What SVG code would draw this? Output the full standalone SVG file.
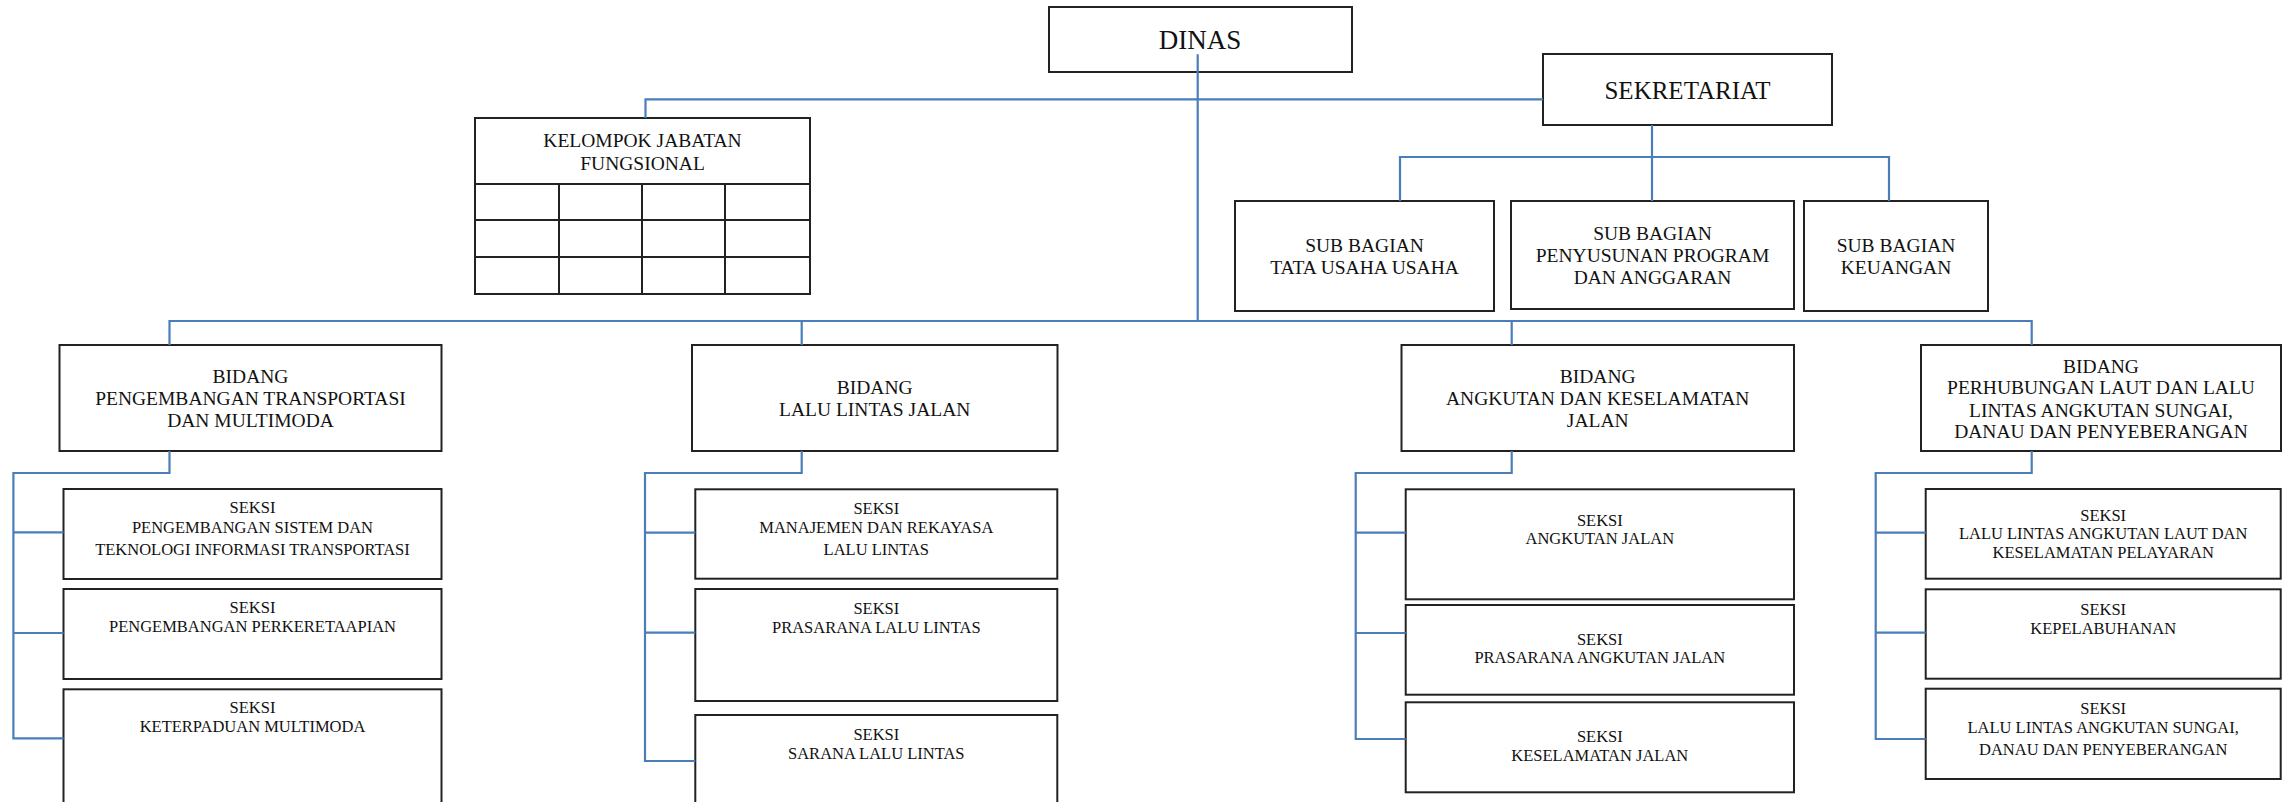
<svg xmlns="http://www.w3.org/2000/svg" width="2294" height="802" viewBox="0 0 2294 802">
<style>
.box{fill:#fff;stroke:#222;stroke-width:2}
.grid{fill:none;stroke:#222;stroke-width:2}
.con{fill:none;stroke:#4a7ebb;stroke-width:2.2}
text{font-family:"Liberation Serif","Times New Roman",serif;fill:#111;text-anchor:middle}
.t27{font-size:27px}
.t25{font-size:25px}
.t19{font-size:19.5px}
.t16{font-size:16.5px}
</style>
<rect width="2294" height="802" fill="#fff"/>

<g id="dinas">
<rect class="box" x="1049" y="7" width="303" height="65"/>
<text class="t27" x="1200" y="49">DINAS</text>
</g>

<g id="sekretariat">
<rect class="box" x="1543" y="54" width="289" height="71"/>
<text class="t25" x="1687.5" y="99">SEKRETARIAT</text>
</g>

<g id="kelompok">
<rect class="box" x="475" y="118" width="335" height="176"/>
<path class="grid" d="M475 184H810M475 220H810M475 257H810M559 184V294M642 184V294M725 184V294"/>
<text class="t19" x="642.5" y="147">KELOMPOK JABATAN</text>
<text class="t19" x="642.5" y="169.5">FUNGSIONAL</text>
</g>

<g id="subbag1">
<rect class="box" x="1235" y="201" width="259" height="110"/>
<text class="t19" x="1364.5" y="252">SUB BAGIAN</text>
<text class="t19" x="1364.5" y="273.5">TATA USAHA USAHA</text>
</g>
<g id="subbag2">
<rect class="box" x="1511" y="201" width="283" height="108"/>
<text class="t19" x="1652.5" y="240">SUB BAGIAN</text>
<text class="t19" x="1652.5" y="262">PENYUSUNAN PROGRAM</text>
<text class="t19" x="1652.5" y="283.5">DAN ANGGARAN</text>
</g>
<g id="subbag3">
<rect class="box" x="1804" y="201" width="184" height="110"/>
<text class="t19" x="1896" y="252">SUB BAGIAN</text>
<text class="t19" x="1896" y="274">KEUANGAN</text>
</g>

<g id="bidang1">
<rect class="box" x="59.5" y="345" width="382" height="106"/>
<text class="t19" x="250.5" y="383">BIDANG</text>
<text class="t19" x="250.5" y="404.5">PENGEMBANGAN TRANSPORTASI</text>
<text class="t19" x="250.5" y="426.5">DAN MULTIMODA</text>
</g>
<g id="bidang2">
<rect class="box" x="692" y="345" width="365.5" height="106"/>
<text class="t19" x="874.7" y="394">BIDANG</text>
<text class="t19" x="874.7" y="416">LALU LINTAS JALAN</text>
</g>
<g id="bidang3">
<rect class="box" x="1401.5" y="345" width="392.5" height="106"/>
<text class="t19" x="1597.7" y="383.3">BIDANG</text>
<text class="t19" x="1597.7" y="405.3">ANGKUTAN DAN KESELAMATAN</text>
<text class="t19" x="1597.7" y="427">JALAN</text>
</g>
<g id="bidang4">
<rect class="box" x="1921" y="345" width="360" height="106"/>
<text class="t19" x="2101" y="372.7">BIDANG</text>
<text class="t19" x="2101" y="394.3">PERHUBUNGAN LAUT DAN LALU</text>
<text class="t19" x="2101" y="416.7">LINTAS ANGKUTAN SUNGAI,</text>
<text class="t19" x="2101" y="438.3">DANAU DAN PENYEBERANGAN</text>
</g>

<g id="seksi1a">
<rect class="box" x="63.5" y="489" width="378" height="90"/>
<text class="t16" x="252.5" y="513.3">SEKSI</text>
<text class="t16" x="252.5" y="532.7">PENGEMBANGAN SISTEM DAN</text>
<text class="t16" x="252.5" y="554.7">TEKNOLOGI INFORMASI TRANSPORTASI</text>
</g>
<g id="seksi1b">
<rect class="box" x="63.5" y="589" width="378" height="90"/>
<text class="t16" x="252.5" y="613.3">SEKSI</text>
<text class="t16" x="252.5" y="632.3">PENGEMBANGAN PERKERETAAPIAN</text>
</g>
<g id="seksi1c">
<rect class="box" x="63.5" y="689.3" width="378" height="125"/>
<text class="t16" x="252.5" y="713.3">SEKSI</text>
<text class="t16" x="252.5" y="732.3">KETERPADUAN MULTIMODA</text>
</g>

<g id="seksi2a">
<rect class="box" x="695.3" y="489.3" width="362" height="89.4"/>
<text class="t16" x="876.3" y="514">SEKSI</text>
<text class="t16" x="876.3" y="533.3">MANAJEMEN DAN REKAYASA</text>
<text class="t16" x="876.3" y="555">LALU LINTAS</text>
</g>
<g id="seksi2b">
<rect class="box" x="695.3" y="589" width="362" height="112"/>
<text class="t16" x="876.3" y="614">SEKSI</text>
<text class="t16" x="876.3" y="633.3">PRASARANA LALU LINTAS</text>
</g>
<g id="seksi2c">
<rect class="box" x="695.3" y="715" width="362" height="100"/>
<text class="t16" x="876.3" y="740">SEKSI</text>
<text class="t16" x="876.3" y="759.3">SARANA LALU LINTAS</text>
</g>

<g id="seksi3a">
<rect class="box" x="1405.7" y="489.3" width="388.3" height="110"/>
<text class="t16" x="1599.8" y="525.7">SEKSI</text>
<text class="t16" x="1599.8" y="544">ANGKUTAN JALAN</text>
</g>
<g id="seksi3b">
<rect class="box" x="1405.7" y="605" width="388.3" height="89.7"/>
<text class="t16" x="1599.8" y="645">SEKSI</text>
<text class="t16" x="1599.8" y="663">PRASARANA ANGKUTAN JALAN</text>
</g>
<g id="seksi3c">
<rect class="box" x="1405.7" y="702.3" width="388.3" height="90"/>
<text class="t16" x="1599.8" y="741.7">SEKSI</text>
<text class="t16" x="1599.8" y="760.7">KESELAMATAN JALAN</text>
</g>

<g id="seksi4a">
<rect class="box" x="1925.7" y="489" width="355" height="89.7"/>
<text class="t16" x="2103.2" y="521">SEKSI</text>
<text class="t16" x="2103.2" y="539.3">LALU LINTAS ANGKUTAN LAUT DAN</text>
<text class="t16" x="2103.2" y="558.3">KESELAMATAN PELAYARAN</text>
</g>
<g id="seksi4b">
<rect class="box" x="1925.7" y="589.3" width="355" height="89.4"/>
<text class="t16" x="2103.2" y="615">SEKSI</text>
<text class="t16" x="2103.2" y="634.3">KEPELABUHANAN</text>
</g>
<g id="seksi4c">
<rect class="box" x="1925.7" y="688.7" width="355" height="90.3"/>
<text class="t16" x="2103.2" y="714">SEKSI</text>
<text class="t16" x="2103.2" y="733.3">LALU LINTAS ANGKUTAN SUNGAI,</text>
<text class="t16" x="2103.2" y="755">DANAU DAN PENYEBERANGAN</text>
</g>

<g id="connectors">
<path class="con" d="M1197.7 54.3V321"/>
<path class="con" d="M645.5 118V99.3H1543"/>
<path class="con" d="M1652 125V157M1400 201V157H1889V201M1652 157V201"/>
<path class="con" d="M169.5 345V321H2031.7V345M801.7 321V345M1511.7 321V345"/>
<path class="con" d="M169.5 451V473H13.4V738.3H63.5M13.4 532.3H63.5M13.4 633H63.5"/>
<path class="con" d="M801.7 451V473H645V761H695.3M645 532.7H695.3M645 632.7H695.3"/>
<path class="con" d="M1511.7 451V473H1355.7V739H1405.7M1355.7 532.7H1405.7M1355.7 633H1405.7"/>
<path class="con" d="M2031.7 451V473H1875.7V739H1925.7M1875.7 532.7H1925.7M1875.7 632.7H1925.7"/>
</g>
</svg>
